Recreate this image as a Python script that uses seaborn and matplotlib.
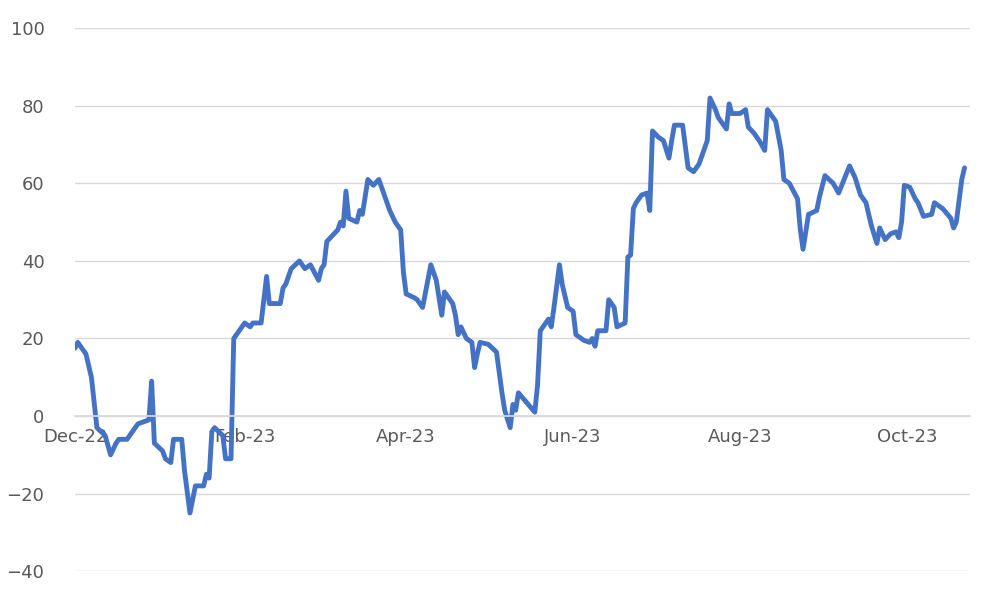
import numpy as np
import pandas as pd
import matplotlib
matplotlib.use("Agg")
import matplotlib.pyplot as plt
import matplotlib.dates as mdates
import seaborn as sns

sns.set_theme(style="white")

# days since 2022-12-01 and values
days = [0, 1, 4, 6, 8, 11, 13, 15, 16, 19, 21, 23, 27, 28, 29, 32, 33, 35, 36, 39,
        40, 42, 44, 47, 48, 49, 50, 51, 54, 55, 57, 58, 60, 62, 64, 65, 68, 70, 71, 75,
        76, 77, 79, 82, 84, 86, 89, 90, 91, 92, 96, 97, 98, 99, 100, 103, 104, 105, 107, 109,
        111, 112, 115, 117, 119, 120, 121, 124, 125, 127, 130, 132, 134, 135, 138, 139, 140, 141, 143, 145,
        146, 147, 148, 151, 154, 156, 157, 159, 160, 161, 162, 165, 168, 169, 170, 173, 174, 175, 177, 178,
        180, 182, 183, 186, 188, 189, 190, 191, 194, 195, 197, 198, 201, 202, 203, 204, 205, 207, 209, 210,
        211, 213, 215, 217, 218, 219, 222, 224, 226, 228, 230, 231, 232, 234, 235, 238, 239, 240, 243, 245,
        246, 248, 250, 252, 253, 256, 258, 259, 261, 264, 265, 266, 268, 271, 272, 274, 277, 279, 281, 283,
        285, 287, 289, 291, 293, 294, 296, 298, 300, 301, 302, 303, 305, 307, 308, 310, 313, 314, 317, 320,
        321, 322, 324, 325]
values = [17.5, 19, 16, 10, -3, -5, -10, -7, -6, -6, -4, -2, -1, 9, -7, -9, -11, -12, -6, -6,
          -14, -25, -18, -18, -15, -16, -4, -3, -5, -11, -11, 20, 22, 24, 23, 24, 24, 36, 29, 29,
          33, 34, 38, 40, 38, 39, 35, 38, 39, 45, 48, 50, 49, 58, 51, 50, 53, 52, 61, 59.5,
          61, 59, 53, 50, 48, 37, 31.5, 30.5, 30, 28, 39, 35, 26, 32, 29, 26, 21, 23, 20, 19,
          12.5, 16, 19, 18.5, 16.5, 6, 1.5, -3, 3, 1.5, 6, 3.5, 1, 8, 22, 25, 23, 28, 39, 34,
          28, 27, 21, 19.5, 19, 20, 18, 22, 22, 30, 28, 23, 24, 41, 41.5, 53.5, 55, 57, 57.5, 53,
          73.5, 72, 71, 66.5, 71, 75, 75, 64, 63, 65, 69, 71, 82, 79, 77, 74, 80.5, 78, 78, 79,
          74.5, 73, 71, 68.5, 79, 76, 68.5, 61, 60, 56, 48, 43, 52, 53, 56.5, 62, 60, 57.5, 61, 64.5,
          61.5, 57, 55, 49, 44.5, 48.5, 45.5, 47, 47.5, 46, 50, 59.5, 59, 56, 55, 51.5, 52, 55, 53.5, 51,
          48.5, 50, 61, 64]

start = pd.Timestamp("2022-12-01")
df = pd.DataFrame({"date": start + pd.to_timedelta(days, unit="D"), "value": values})

fig = plt.figure(figsize=(10, 6), dpi=100)
ax = fig.add_axes([0.075, 0.048, 0.895, 0.905])
sns.lineplot(data=df, x="date", y="value", color="#4472C4", linewidth=3.5, ax=ax)

ax.set_ylim(-40, 100)
ax.set_yticks(range(-40, 101, 20))
ax.set_xlim(start, start + pd.Timedelta(days=327))
ax.xaxis.set_major_locator(mdates.MonthLocator(bymonth=[12, 2, 4, 6, 8, 10]))
ax.xaxis.set_major_formatter(mdates.DateFormatter("%b-%y"))
ax.grid(axis="y", color="#d9d9d9", linewidth=1)
for s in ["top", "right", "left"]:
    ax.spines[s].set_visible(False)
ax.spines["bottom"].set_position(("data", 0))
ax.spines["bottom"].set_color("#d9d9d9")
ax.tick_params(axis="x", colors="#595959", labelsize=13, length=5, color="#d9d9d9", direction="out")
ax.tick_params(axis="y", colors="#595959", labelsize=13, length=0, pad=22)
ax.set_xlabel("")
ax.set_ylabel("")
ax.set_axisbelow(True)

fig.savefig("out.png", dpi=100)
